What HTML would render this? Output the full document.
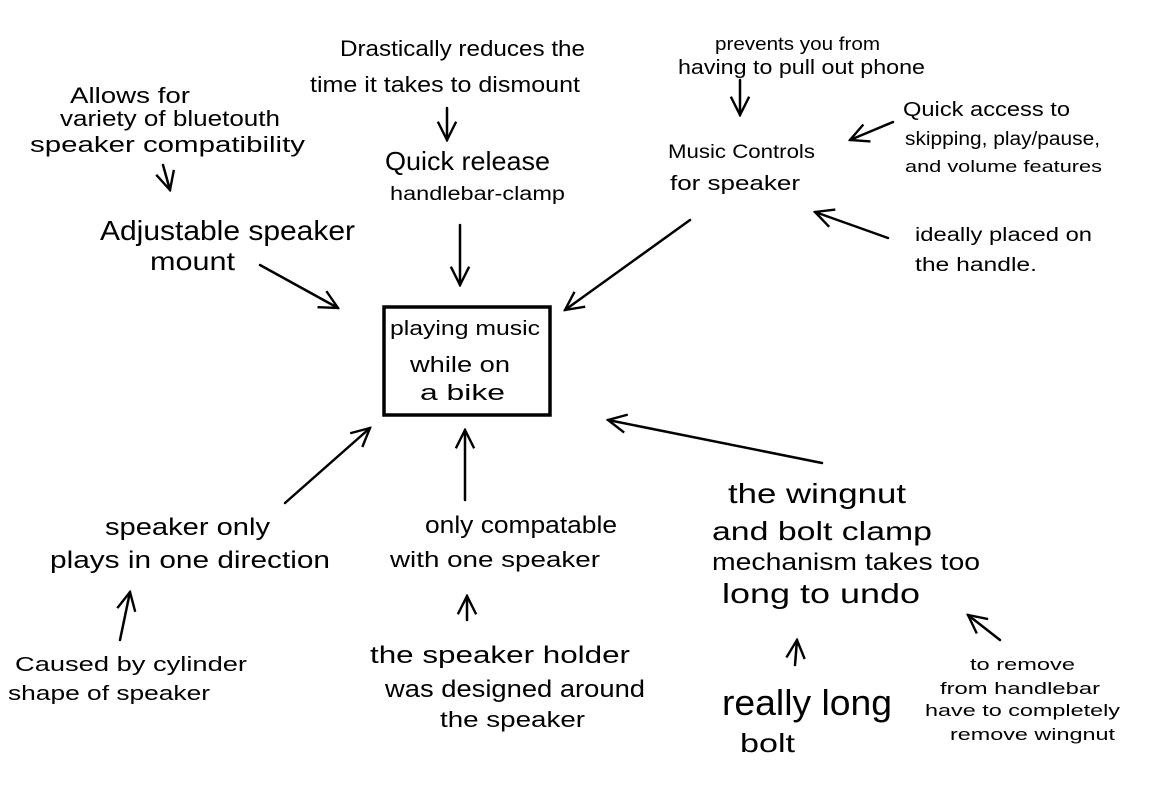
<!DOCTYPE html>
<html><head><meta charset="utf-8"><style>
html,body{margin:0;padding:0;background:#fff;}
svg{display:block;}
text{font-family:"Liberation Sans",sans-serif;fill:#000;}
</style></head><body>
<svg width="1157" height="793" viewBox="0 0 1157 793" xmlns="http://www.w3.org/2000/svg">
<defs>
<marker id="b" viewBox="0 0 12 12" refX="11" refY="6" markerWidth="22" markerHeight="22" markerUnits="userSpaceOnUse" orient="auto">
<path d="M1,1 L11,6 L1,11" fill="none" stroke="#000" stroke-width="1.3"/>
</marker>
</defs>
<g stroke="#000" stroke-width="2.5" fill="none" stroke-linecap="round" marker-end="url(#b)">
<line x1="447" y1="108" x2="447" y2="140"/>
<line x1="460" y1="225" x2="460" y2="285"/>
<line x1="163" y1="165" x2="170" y2="190"/>
<line x1="260" y1="265" x2="338" y2="308"/>
<line x1="740" y1="80" x2="740" y2="115"/>
<line x1="690" y1="220" x2="565" y2="310"/>
<line x1="893" y1="122" x2="850" y2="140"/>
<line x1="888" y1="238" x2="815" y2="212"/>
<line x1="822" y1="463" x2="608" y2="420"/>
<line x1="285" y1="503" x2="370" y2="428"/>
<line x1="465" y1="500" x2="465" y2="430"/>
<line x1="120" y1="640" x2="130" y2="592"/>
<line x1="467" y1="620" x2="467" y2="596"/>
<line x1="795" y1="665" x2="797" y2="640"/>
<line x1="1000" y1="640" x2="968" y2="615"/>
</g>
<rect x="384" y="307" width="166" height="108" fill="none" stroke="#000" stroke-width="3.5"/>
<g>
<text x="340" y="56" font-size="22" textLength="245" lengthAdjust="spacingAndGlyphs">Drastically reduces the</text>
<text x="310" y="92" font-size="22" textLength="270" lengthAdjust="spacingAndGlyphs">time it takes to dismount</text>
<text x="385" y="170" font-size="26" textLength="165" lengthAdjust="spacingAndGlyphs">Quick release</text>
<text x="390" y="200" font-size="19" textLength="175" lengthAdjust="spacingAndGlyphs">handlebar-clamp</text>
<text x="70" y="103" font-size="22" textLength="120" lengthAdjust="spacingAndGlyphs">Allows for</text>
<text x="60" y="126" font-size="22" textLength="220" lengthAdjust="spacingAndGlyphs">variety of bluetouth</text>
<text x="30" y="152" font-size="22" textLength="275" lengthAdjust="spacingAndGlyphs">speaker compatibility</text>
<text x="100" y="240" font-size="28" textLength="255" lengthAdjust="spacingAndGlyphs">Adjustable speaker</text>
<text x="150" y="270" font-size="26" textLength="85" lengthAdjust="spacingAndGlyphs">mount</text>
<text x="390" y="335" font-size="20" textLength="150" lengthAdjust="spacingAndGlyphs">playing music</text>
<text x="410" y="372" font-size="22" textLength="100" lengthAdjust="spacingAndGlyphs">while on</text>
<text x="420" y="400" font-size="22" textLength="85" lengthAdjust="spacingAndGlyphs">a bike</text>
<text x="715" y="50" font-size="18" textLength="165" lengthAdjust="spacingAndGlyphs">prevents you from</text>
<text x="678" y="74" font-size="20" textLength="247" lengthAdjust="spacingAndGlyphs">having to pull out phone</text>
<text x="668" y="158" font-size="19" textLength="147" lengthAdjust="spacingAndGlyphs">Music Controls</text>
<text x="670" y="190" font-size="20" textLength="130" lengthAdjust="spacingAndGlyphs">for speaker</text>
<text x="903" y="116" font-size="20" textLength="167" lengthAdjust="spacingAndGlyphs">Quick access to</text>
<text x="905" y="145" font-size="19" textLength="195" lengthAdjust="spacingAndGlyphs">skipping, play/pause,</text>
<text x="905" y="172" font-size="17" textLength="197" lengthAdjust="spacingAndGlyphs">and volume features</text>
<text x="915" y="241" font-size="19" textLength="177" lengthAdjust="spacingAndGlyphs">ideally placed on</text>
<text x="915" y="271" font-size="19" textLength="122" lengthAdjust="spacingAndGlyphs">the handle.</text>
<text x="728" y="503" font-size="28" textLength="178" lengthAdjust="spacingAndGlyphs">the wingnut</text>
<text x="712" y="540" font-size="26" textLength="220" lengthAdjust="spacingAndGlyphs">and bolt clamp</text>
<text x="712" y="570" font-size="24" textLength="268" lengthAdjust="spacingAndGlyphs">mechanism takes too</text>
<text x="722" y="603" font-size="28" textLength="198" lengthAdjust="spacingAndGlyphs">long to undo</text>
<text x="105" y="535" font-size="24" textLength="165" lengthAdjust="spacingAndGlyphs">speaker only</text>
<text x="50" y="568" font-size="24" textLength="280" lengthAdjust="spacingAndGlyphs">plays in one direction</text>
<text x="425" y="533" font-size="24" textLength="192" lengthAdjust="spacingAndGlyphs">only compatable</text>
<text x="390" y="567" font-size="22" textLength="210" lengthAdjust="spacingAndGlyphs">with one speaker</text>
<text x="15" y="671" font-size="20" textLength="232" lengthAdjust="spacingAndGlyphs">Caused by cylinder</text>
<text x="8" y="700" font-size="20" textLength="202" lengthAdjust="spacingAndGlyphs">shape of speaker</text>
<text x="370" y="663" font-size="24" textLength="260" lengthAdjust="spacingAndGlyphs">the speaker holder</text>
<text x="385" y="697" font-size="24" textLength="260" lengthAdjust="spacingAndGlyphs">was designed around</text>
<text x="440" y="727" font-size="22" textLength="145" lengthAdjust="spacingAndGlyphs">the speaker</text>
<text x="722" y="715" font-size="36" textLength="170" lengthAdjust="spacingAndGlyphs">really long</text>
<text x="740" y="752" font-size="26" textLength="55" lengthAdjust="spacingAndGlyphs">bolt</text>
<text x="970" y="670" font-size="17" textLength="105" lengthAdjust="spacingAndGlyphs">to remove</text>
<text x="940" y="694" font-size="17" textLength="160" lengthAdjust="spacingAndGlyphs">from handlebar</text>
<text x="925" y="716" font-size="17" textLength="195" lengthAdjust="spacingAndGlyphs">have to completely</text>
<text x="950" y="740" font-size="17" textLength="165" lengthAdjust="spacingAndGlyphs">remove wingnut</text>
</g>
</svg>
</body></html>
